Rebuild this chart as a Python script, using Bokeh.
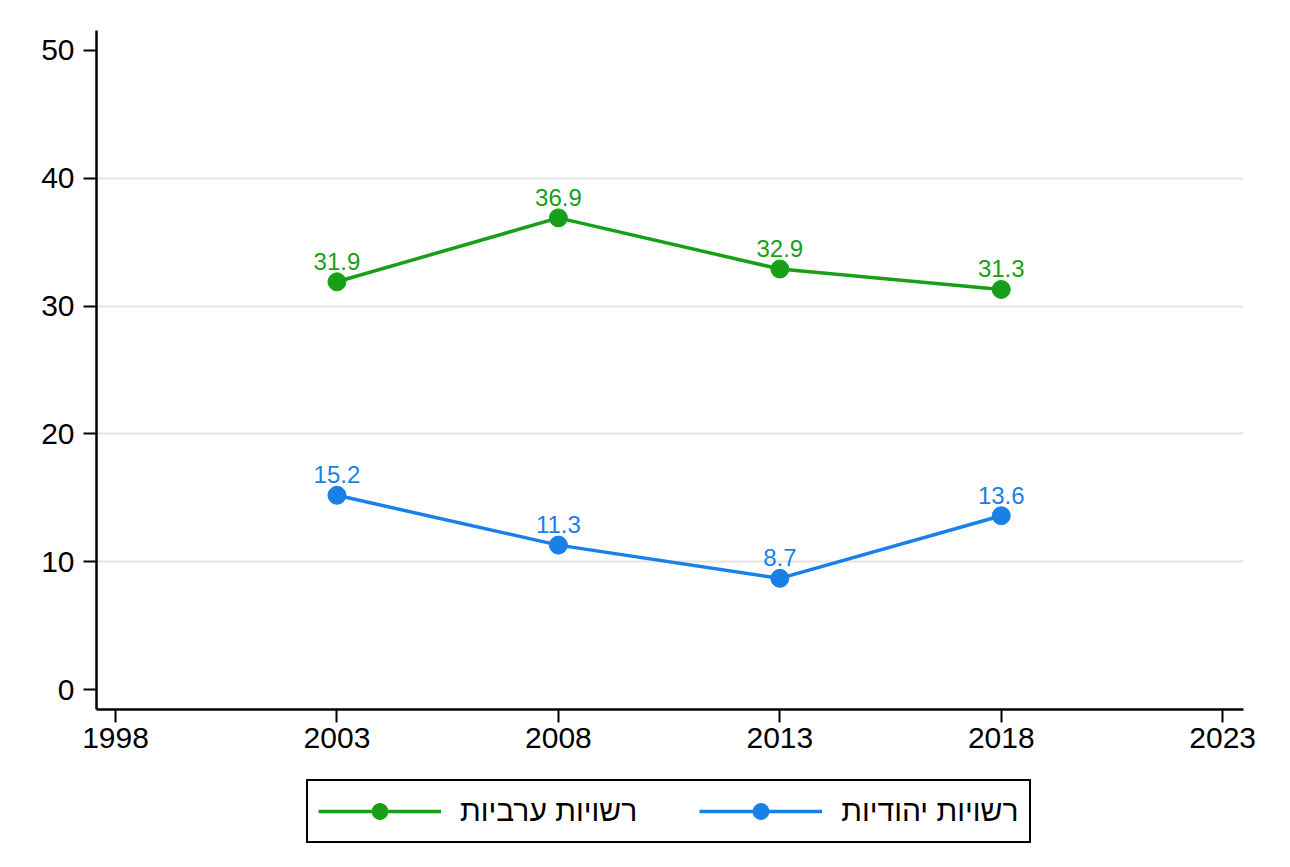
from bokeh.plotting import figure
from bokeh.layouts import column
from bokeh.models import FixedTicker, Legend, LegendItem, ColumnDataSource, LabelSet, Range1d
from bokeh.core.properties import value
from bokeh.embed import file_html
from bokeh.resources import INLINE

years = [2003, 2008, 2013, 2018]
arab = [31.9, 36.9, 32.9, 31.3]
jewish = [15.2, 11.3, 8.7, 13.6]
arab_name = "רשויות ערביות"
jewish_name = "רשויות יהודיות"
x_ticks = [1998, 2003, 2008, 2013, 2018, 2023]
y_ticks = [0, 10, 20, 30, 40, 50]
grid_ticks = [10, 20, 30, 40]

GREEN = "#17a017"
BLUE = "#1a80e6"
FONT = "Liberation Sans"

p = figure(output_backend="svg", toolbar_location=None,
           frame_width=1147, frame_height=679,
           x_range=Range1d(1997.57, 2023.47), y_range=Range1d(-1.56, 51.56),
           min_border_left=96, min_border_right=40, min_border_top=30, min_border_bottom=60)
p.outline_line_color = None
p.background_fill_color = "white"
p.border_fill_color = "white"

for ax in (p.xaxis[0], p.yaxis[0]):
    ax.axis_line_width = 2.5
    ax.axis_line_color = "black"
    ax.major_tick_line_width = 2
    ax.major_tick_line_color = "black"
    ax.major_tick_out = 13
    ax.major_tick_in = 0
    ax.minor_tick_line_color = None
    ax.major_label_text_font = FONT
    ax.major_label_text_font_size = "30px"
    ax.major_label_text_color = "black"
p.xaxis.ticker = FixedTicker(ticks=x_ticks)
p.yaxis.ticker = FixedTicker(ticks=y_ticks)
p.xaxis.major_label_standoff = 5
p.yaxis.major_label_standoff = 9

p.xgrid.grid_line_color = None
p.ygrid.ticker = FixedTicker(ticks=grid_ticks)
p.ygrid.grid_line_color = "#e3e3e3"
p.ygrid.grid_line_width = 2

src_a = ColumnDataSource(dict(x=years, y=arab, t=[f"{v:.1f}" for v in arab]))
src_j = ColumnDataSource(dict(x=years, y=jewish, t=[f"{v:.1f}" for v in jewish]))

la = p.line("x", "y", source=src_a, line_color=GREEN, line_width=3.5)
sa = p.scatter("x", "y", source=src_a, size=18, fill_color=GREEN, line_color=GREEN)
lj = p.line("x", "y", source=src_j, line_color=BLUE, line_width=3.5)
sj = p.scatter("x", "y", source=src_j, size=18, fill_color=BLUE, line_color=BLUE)

for src, col in ((src_a, GREEN), (src_j, BLUE)):
    lbl = LabelSet(x="x", y="y", text="t", source=src, x_offset=0, y_offset=12,
                   text_align="center", text_baseline="bottom",
                   text_color=col, text_font=value(FONT), text_font_size="24px")
    p.add_layout(lbl)

# legend strip below the chart (its ranges keep the series themselves out of view)
q = figure(output_backend="svg", toolbar_location=None,
           frame_width=1147, frame_height=98,
           x_range=Range1d(0, 1), y_range=Range1d(0, 1),
           x_axis_location=None, y_axis_location=None,
           min_border_left=96, min_border_right=40, min_border_top=0, min_border_bottom=0)
q.outline_line_color = None
q.grid.visible = False
q.background_fill_color = "white"
q.border_fill_color = "white"

qla = q.line("x", "y", source=src_a, line_color=GREEN, line_width=3.5)
qsa = q.scatter("x", "y", source=src_a, size=18, fill_color=GREEN, line_color=GREEN)
qlj = q.line("x", "y", source=src_j, line_color=BLUE, line_width=3.5)
qsj = q.scatter("x", "y", source=src_j, size=18, fill_color=BLUE, line_color=BLUE)

legend = Legend(items=[LegendItem(label=arab_name, renderers=[qla, qsa]),
                       LegendItem(label=jewish_name, renderers=[qlj, qsj])],
                orientation="horizontal", location=(210, 24),
                glyph_width=123, glyph_height=40, label_text_font=FONT,
                label_text_font_size="30px", label_text_color="black",
                border_line_color="black", border_line_width=2.5, border_line_alpha=1,
                padding=10, spacing=62, label_standoff=19, margin=0,
                label_height=40,
                background_fill_color="white", background_fill_alpha=1)
q.add_layout(legend)

layout = column(p, q, spacing=0)
open("out.html", "w").write(file_html(layout, INLINE))
